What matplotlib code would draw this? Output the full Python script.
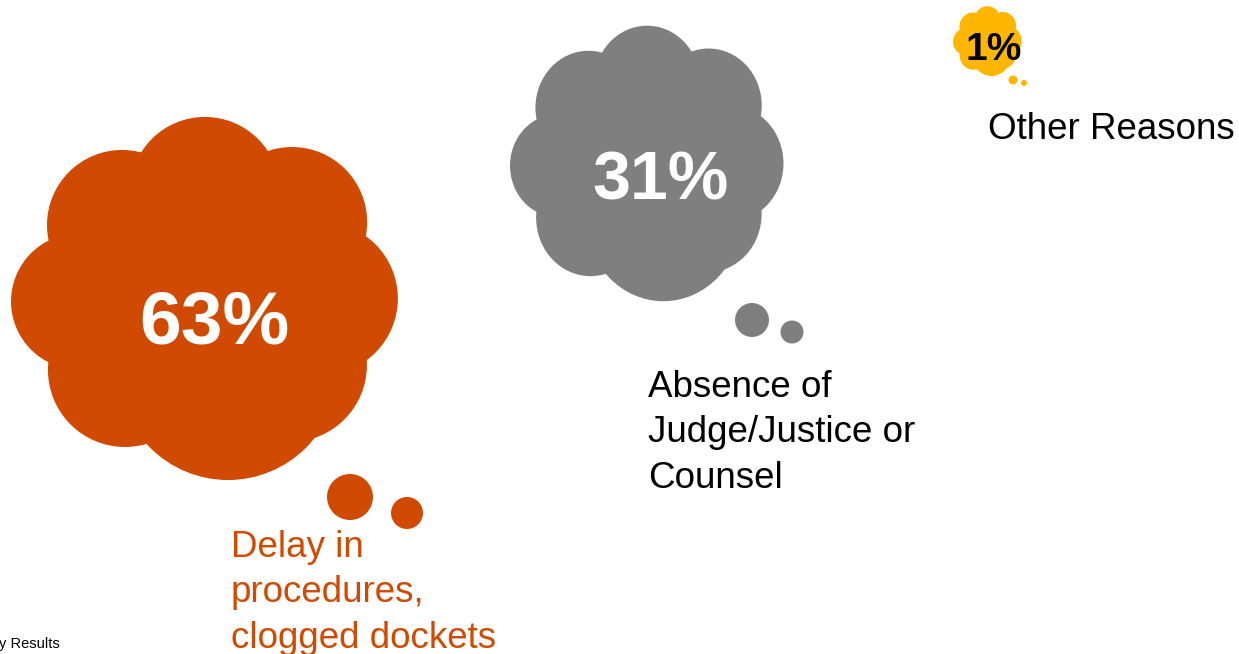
import matplotlib
matplotlib.use("Agg")
import matplotlib.pyplot as plt
from matplotlib.patches import Ellipse, Circle, Rectangle

# Survey shares per reason
categories = ["Delay in\nprocedures,\nclogged dockets",
              "Absence of\nJudge/Justice or\nCounsel",
              "Other Reasons"]
shares = [63, 31, 1]

cloud_colors = ["#D04A02", "#7F7F7F", "#FFB600"]
value_colors = ["white", "white", "black"]
label_colors = ["#D04A02", "black", "black"]

# Cloud placement in pixel space: centre x, centre y, half-width, half-height
cloud_boxes = [(205.5, 300.5, 194.5, 184.5),
               (647.5, 165.0, 137.5, 140.0),
               (987.5, 41.5, 34.5, 35.5)]
# Thought-bubble tail dots: (x, y, r) pairs
tails = [[(350, 497, 23), (407, 513, 16)],
         [(752, 320, 17), (792, 332, 11.5)],
         [(1013, 80, 4.5), (1024, 83, 3)]]
# Value text: centre x, baseline y, font size
value_pos = [(214.5, 343, 54), (661, 199, 49), (993.5, 60, 28)]
# Category label: left x, first baseline y
label_pos = [(231, 557), (648, 397), (988, 139)]
LINE_STEP = 45.5

# Cloud outline built from overlapping lobes (u, v, rx, ry) in unit box coordinates
lobes = [(-0.003, -0.588, 0.386, 0.407),   # top
         (-0.429, -0.409, 0.386, 0.407),   # upper left
         (-0.650, 0.005, 0.350, 0.369),    # left
         (-0.414, 0.377, 0.396, 0.417),    # lower left
         (0.116, 0.377, 0.566, 0.596),     # bottom
         (0.434, 0.350, 0.396, 0.417),     # lower right
         (0.596, -0.011, 0.393, 0.415),    # right
         (0.445, -0.425, 0.386, 0.407),    # upper right
         (0.000, 0.000, 0.720, 0.759)]     # body

W, H = 1239, 654
fig = plt.figure(figsize=(W / 100, H / 100), dpi=100)
ax = fig.add_axes([0, 0, 1, 1])
ax.set_xlim(0, W)
ax.set_ylim(H, 0)
ax.axis("off")

FONT = ["Liberation Sans", "DejaVu Sans"]

for i, share in enumerate(shares):
    cx, cy, hw, hh = cloud_boxes[i]
    col = cloud_colors[i]
    for u, v, a, b in lobes:
        ax.add_patch(Ellipse((cx + u * hw, cy + v * hh), 2 * a * hw, 2 * b * hh,
                             facecolor=col, edgecolor="none"))
    for tx, ty, tr in tails[i]:
        dot = Circle((tx, ty), tr, facecolor=col, edgecolor="none")
        ax.add_patch(dot)
        if i == 0:
            dot.set_clip_path(Rectangle((0, 0), 423, H, transform=ax.transData))

    vx, vy, vs = value_pos[i]
    ax.text(vx, vy, f"{share}%", ha="center", va="baseline", fontsize=vs,
            fontweight="bold", color=value_colors[i], family=FONT)

    lx, ly = label_pos[i]
    for k, line in enumerate(categories[i].split("\n")):
        ax.text(lx, ly + k * LINE_STEP, line, ha="left", va="baseline",
                fontsize=26.5, color=label_colors[i], family=FONT)

ax.text(-1, 648, "y Results", ha="left", va="baseline", fontsize=10.5,
        color="black", family=FONT)

fig.savefig("out.png", dpi=100)
